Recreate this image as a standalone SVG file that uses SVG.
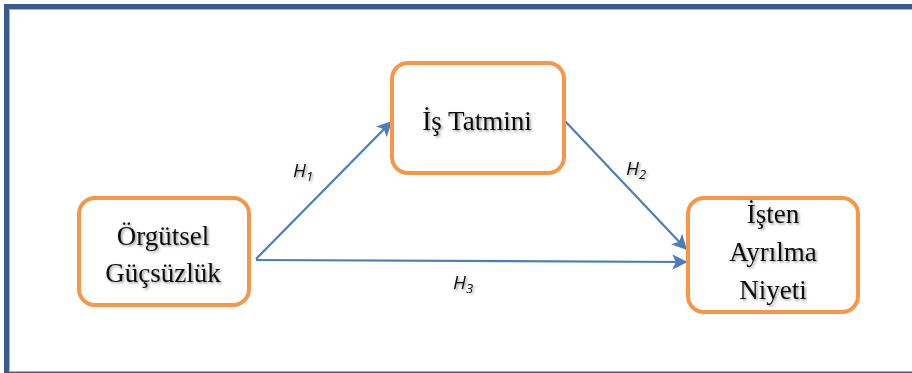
<svg xmlns="http://www.w3.org/2000/svg" width="912" height="373" viewBox="0 0 912 373">
<style>
.node rect{fill:#fff;stroke:#f79646;stroke-width:4}
.lbl{font-family:"Liberation Serif","Times New Roman",serif;font-size:27px;fill:#111;text-anchor:middle;filter:url(#sh)}
.conn line{stroke:#4a7ebb;stroke-width:2.2;marker-end:url(#arr)}
.h{font-family:"Open Sans","Liberation Sans",sans-serif;font-style:italic;font-size:19px;fill:#111;filter:url(#sh)}
.h tspan{font-size:13px}
</style>
<defs>
<marker id="arr" viewBox="0 0 10 10" refX="9" refY="5" markerWidth="7" markerHeight="7" orient="auto" markerUnits="strokeWidth">
<path d="M0,0 L10,5 L0,10 L2.5,5 z" fill="#4a7ebb"/>
</marker>
<filter id="sh" x="-10%" y="-20%" width="130%" height="160%">
<feDropShadow dx="1.5" dy="1.5" stdDeviation="1.3" flood-color="#000" flood-opacity="0.4"/>
</filter>
</defs>
<rect x="0" y="0" width="912" height="373" fill="#fff"/>
<path d="M6.5,373 V6.5 H912" fill="none" stroke="#3a5b8c" stroke-width="5"/>
<path d="M9.5,370.5 V9.5 H912" fill="none" stroke="#9bb2d1" stroke-width="1"/>
<line x1="9" y1="371.5" x2="912" y2="371.5" stroke="#9bb2d1" stroke-width="1"/>
<rect x="9" y="372" width="903" height="1" fill="#3a5b8c"/>
<g class="conn" id="connectors">
<line x1="256" y1="259" x2="391" y2="122"/>
<line x1="565" y1="121" x2="686" y2="249"/>
<line x1="256" y1="260" x2="686" y2="262"/>
</g>
<text class="h" x="293" y="177">H<tspan dy="4">1</tspan></text>
<text class="h" x="626" y="175">H<tspan dy="4">2</tspan></text>
<text class="h" x="453" y="289">H<tspan dy="4">3</tspan></text>
<g class="node" id="is-tatmini">
<rect x="392" y="63" width="172" height="110" rx="16"/>
<text class="lbl" x="477" y="130">İş Tatmini</text>
</g>
<g class="node" id="orgutsel-gucsuzluk">
<rect x="79" y="198" width="170" height="107" rx="16"/>
<text class="lbl" x="163" y="245">Örgütsel</text>
<text class="lbl" x="163" y="282">Güçsüzlük</text>
</g>
<g class="node" id="isten-ayrilma-niyeti">
<rect x="688" y="198" width="170" height="114" rx="16"/>
<text class="lbl" x="773" y="223">İşten</text>
<text class="lbl" x="773" y="261">Ayrılma</text>
<text class="lbl" x="773" y="299">Niyeti</text>
</g>
</svg>
